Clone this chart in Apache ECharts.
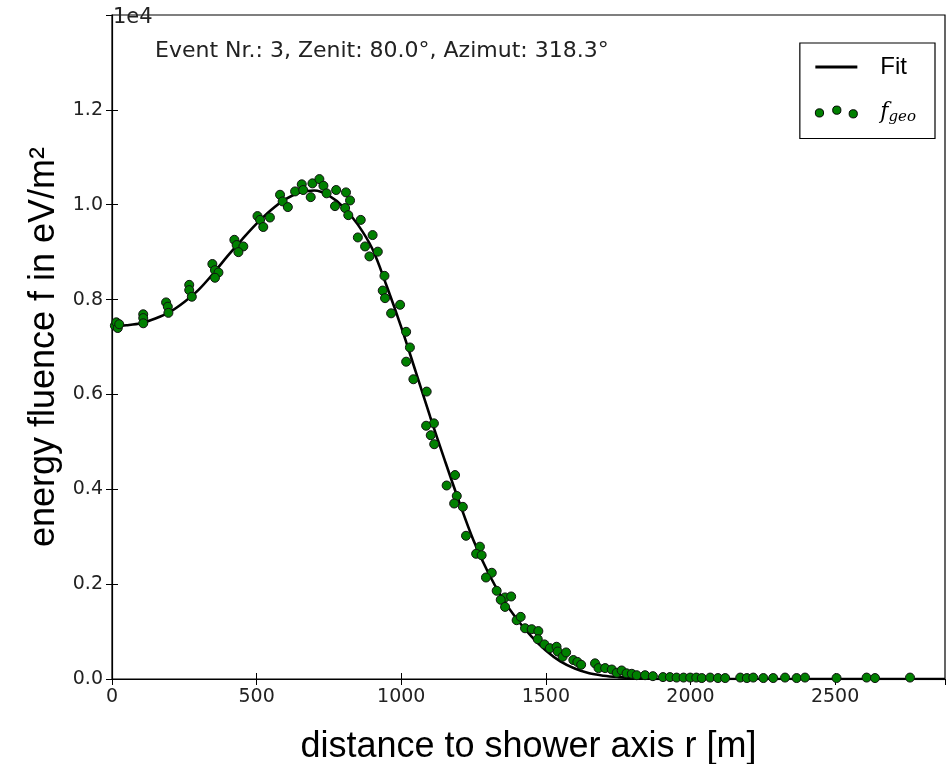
<!DOCTYPE html>
<html>
<head>
<meta charset="utf-8">
<script src="https://cdn.jsdelivr.net/npm/echarts@6/dist/echarts.min.js"></script>
<style>html,body{margin:0;padding:0;background:#fff;}#c{width:948px;height:764px;}</style>
</head>
<body>
<div id="c"></div>
<script>
// Fit curve (r in m, f in eV/m^2)
const fitR = [0,50,100,150,200,250,300,350,400,450,500,550,600,650,700,750,800,850,900,950,1000,1050,1100,1150,1200,1250,1300,1350,1400,1450,1500,1550,1600,1650,1700,1750,1800,1850,1900,2000,2880];
const fitF = [7440,7460,7500,7600,7740,7950,8210,8550,8920,9270,9600,9890,10120,10260,10300,10190,9950,9580,9070,8280,7420,6480,5530,4620,3740,2920,2250,1700,1260,900,600,370,220,120,70,40,20,10,0,0,0];

// Measured points f_geo
const ptR = [10,15,20,25,108,108,108,187,193,195,267,267,276,347,356,368,356,423,431,454,437,503,512,546,523,581,590,608,633,656,661,687,693,717,731,742,775,771,809,823,806,817,860,901,850,875,919,890,942,936,944,965,996,1017,1030,1017,1042,1088,1113,1086,1102,1114,1186,1157,1192,1183,1213,1224,1272,1259,1278,1313,1293,1330,1359,1380,1344,1359,1399,1413,1428,1451,1474,1472,1495,1514,1537,1541,1558,1570,1595,1609,1622,1670,1682,1705,1728,1745,1762,1779,1797,1814,1843,1870,1905,1929,1952,1976,1999,2020,2039,2068,2095,2120,2172,2195,2217,2252,2286,2327,2367,2396,2505,2609,2638,2759];
const ptF = [7450,7520,7400,7480,7690,7610,7500,7940,7850,7720,8310,8200,8060,8750,8620,8570,8460,9260,9150,9120,9000,9760,9680,9730,9530,10210,10070,9950,10280,10430,10310,10160,10450,10540,10400,10240,10310,9970,10260,10090,9930,9780,9680,9360,9310,9120,9010,8910,8500,8190,8030,7710,7890,7320,6990,6690,6320,6060,5390,5340,5140,4950,4300,4080,3860,3700,3630,3020,2790,2640,2610,2240,2140,1860,1720,1740,1670,1520,1240,1310,1070,1050,1010,840,730,650,680,580,470,560,400,360,300,330,230,230,200,130,180,120,110,80,80,60,40,40,30,30,30,30,20,30,20,20,30,20,30,20,20,30,20,30,20,30,20,30];

const xTicks = {min: 0, max: 2880, interval: 500};
const yTicks = {min: 0, max: 14000, interval: 2000};

const chart = echarts.init(document.getElementById('c'), null, {renderer: 'canvas'});
const fitData = fitR.map((r, i) => [r, fitF[i]]);
const ptData = ptR.map((r, i) => [r, ptF[i]]);

const labelFont = {fontFamily: 'DejaVu Sans', fontSize: 19, color: '#222'};
const tickCommon = {show: true, inside: true, length: 6, lineStyle: {color: '#000', width: 1}};

chart.setOption({
  animation: false,
  backgroundColor: '#fff',
  grid: {left: 112, right: 3, top: 15, bottom: 85, outerBoundsMode: 'none', containLabel: false,
    show: true, borderColor: '#000', borderWidth: 1.2, backgroundColor: 'transparent'},
  xAxis: [{
    type: 'value', position: 'bottom', min: xTicks.min, max: xTicks.max, interval: xTicks.interval,
    axisLine: {show: true, onZero: false, lineStyle: {color: '#000', width: 1.2}},
    axisTick: tickCommon, splitLine: {show: false},
    axisLabel: Object.assign({margin: 9, showMaxLabel: false, formatter: v => String(v)}, labelFont),
    name: 'distance to shower axis r [m]', nameLocation: 'middle', nameGap: 50,
    nameTextStyle: {fontFamily: 'Liberation Sans', fontSize: 36, color: '#000'}
  }, {
    type: 'value', position: 'top', min: xTicks.min, max: xTicks.max, interval: xTicks.interval,
    axisLine: {show: false}, axisTick: tickCommon, axisLabel: {show: false}, splitLine: {show: false}
  }],
  yAxis: [{
    type: 'value', position: 'left', min: yTicks.min, max: yTicks.max, interval: yTicks.interval,
    axisLine: {show: true, onZero: false, lineStyle: {color: '#000', width: 1.2}},
    axisTick: tickCommon, splitLine: {show: false},
    axisLabel: Object.assign({margin: 9, showMaxLabel: false, formatter: v => (v / 1e4).toFixed(1)}, labelFont),
    name: 'energy fluence f in eV/m²', nameLocation: 'middle', nameGap: 42, nameRotate: 90,
    nameTextStyle: {fontFamily: 'Liberation Sans', fontSize: 36, color: '#000'}
  }, {
    type: 'value', position: 'right', min: yTicks.min, max: yTicks.max, interval: yTicks.interval,
    axisLine: {show: false}, axisTick: tickCommon, axisLabel: {show: false}, splitLine: {show: false}
  }],
  legend: {
    orient: 'vertical', right: 13, top: 43,
    backgroundColor: '#fff', borderColor: '#000', borderWidth: 1.2, borderRadius: 0,
    padding: [12, 19, 14, 15], itemGap: 22, itemWidth: 42, itemHeight: 14,
    align: 'left',
    data: [
      {name: 'Fit', icon: 'path://M0,6 L40,6 L40,9 L0,9 Z', itemStyle: {color: '#000', borderWidth: 0}},
      {name: 'fgeo', icon: 'path://M0,9a4.5,4.5 0 1,0 9,0a4.5,4.5 0 1,0 -9,0 M19,6a4.5,4.5 0 1,0 9,0a4.5,4.5 0 1,0 -9,0 M37,10a4.5,4.5 0 1,0 9,0a4.5,4.5 0 1,0 -9,0',
       itemStyle: {color: '#008000', borderColor: '#000', borderWidth: 1}}
    ],
    formatter: n => n === 'Fit' ? '{fit|Fit}' : '{f|f}{sub|geo}',
    textStyle: {
      padding: [0, 0, 0, 8],
      rich: {
        fit: {fontFamily: 'Liberation Sans', fontSize: 24, color: '#000', padding: [0, 0, 0, 10]},
        f: {fontFamily: 'DejaVu Serif', fontStyle: 'italic', fontSize: 22, color: '#000', padding: [0, 0, 0, 10]},
        sub: {fontFamily: 'DejaVu Serif', fontStyle: 'italic', fontSize: 15, color: '#000', verticalAlign: 'bottom', padding: [10, 0, 0, 0]}
      }
    }
  },
  graphic: [
    {type: 'text', left: 113, top: 7, style: {text: '1e4', font: '21px "DejaVu Sans"', fill: '#222'}},
    {type: 'text', left: 155, top: 40, style: {text: 'Event Nr.: 3, Zenit: 80.0°, Azimut: 318.3°', font: '22px "DejaVu Sans"', fill: '#222'}}
  ],
  series: [{
    name: 'Fit', type: 'line', data: fitData, smooth: 0.35, symbol: 'none',
    lineStyle: {color: '#000', width: 2.6}, z: 2
  }, {
    name: 'fgeo', type: 'scatter', data: ptData, symbol: 'circle', symbolSize: 9,
    itemStyle: {color: '#008000', borderColor: '#111', borderWidth: 1, opacity: 1}, z: 3
  }]
});
</script>
</body>
</html>
